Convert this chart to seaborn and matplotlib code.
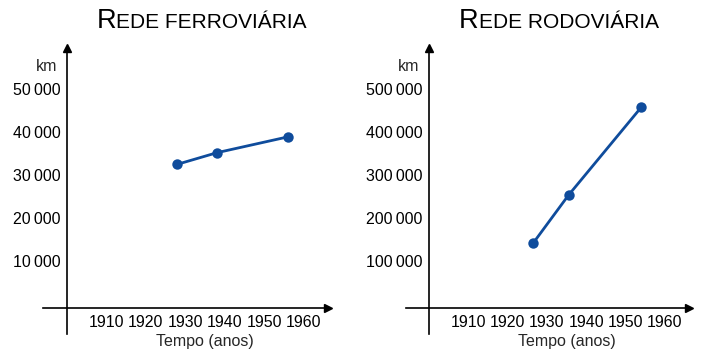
import matplotlib
matplotlib.use("Agg")
import matplotlib.pyplot as plt
from matplotlib.offsetbox import TextArea, HPacker, AnnotationBbox
import pandas as pd
import seaborn as sns

# Data
years_ferro = [1928, 1938, 1956]
km_ferro = [32500, 35200, 38900]

years_rodo = [1926.5, 1935.5, 1954]
km_rodo = [141000, 253000, 458000]

x_ticks = [1910, 1920, 1930, 1940, 1950, 1960]
y_ticks_ferro = [10000, 20000, 30000, 40000, 50000]
y_ticks_rodo = [100000, 200000, 300000, 400000, 500000]

titles = [("R", "EDE FERROVIÁRIA"), ("R", "EDE RODOVIÁRIA")]

sns.set_style("white")
plt.rcParams["font.family"] = ["Liberation Sans", "DejaVu Sans"]

line_color = "#0f4c9c"

fig = plt.figure(figsize=(7.09, 3.59), dpi=100)
ax1 = fig.add_axes([0.061, 0.069, 0.402, 0.798])
ax2 = fig.add_axes([0.572, 0.069, 0.400, 0.798])


def fmt(v):
    return f"{v:,}".replace(",", "\u2009")


def setup_axis(ax, years, km, yticks, scale):
    df = pd.DataFrame({"ano": years, "km": km})
    sns.lineplot(data=df, x="ano", y="km", ax=ax, color=line_color,
                 linewidth=2.0, marker="o", markersize=7.5,
                 markeredgewidth=0, zorder=3)
    ax.set_xlim(1894, 1966.2)
    ax.set_ylim(-7180 * scale, 59700 * scale)
    for side in ["top", "right"]:
        ax.spines[side].set_visible(False)
    ax.spines["left"].set_position(("data", 1900))
    # the original drawing puts its time axis a little below zero
    ax.spines["bottom"].set_position(("data", -1000 * scale))
    for side in ["left", "bottom"]:
        ax.spines[side].set_linewidth(1.2)
        ax.spines[side].set_color("black")
    ax.set_xticks(x_ticks)
    ax.set_yticks(yticks)
    ax.set_yticklabels([fmt(v) for v in yticks])
    ax.tick_params(direction="inout", length=5, width=1.0, labelsize=11.5,
                   colors="black", pad=2)
    ax.tick_params(axis="x", pad=2.5)
    ax.set_xlabel("")
    ax.set_ylabel("")
    # arrow heads
    ax.plot(1, -1000 * scale, ">k", markersize=6,
            transform=ax.get_yaxis_transform(), clip_on=False)
    ax.plot(1900, 1, "^k", markersize=6, transform=ax.get_xaxis_transform(),
            clip_on=False)
    ax.text(0.049, 0.935, "km", transform=ax.transAxes, ha="right",
            va="center", fontsize=11.5)
    ax.text(1935, -0.026, "Tempo (anos)", transform=ax.get_xaxis_transform(),
            ha="center", va="center", fontsize=11.5)


setup_axis(ax1, years_ferro, km_ferro, y_ticks_ferro, 1)
setup_axis(ax2, years_rodo, km_rodo, y_ticks_rodo, 10)


def small_caps_title(x, y, parts):
    big, small = parts
    box = HPacker(children=[
        TextArea(big, textprops=dict(fontsize=19.5, color="black")),
        TextArea(small, textprops=dict(fontsize=15, color="black")),
    ], align="baseline", pad=0, sep=0)
    ab = AnnotationBbox(box, (x, y), xycoords="figure fraction",
                        frameon=False, box_alignment=(0.5, 0.5))
    fig.add_artist(ab)


small_caps_title(201.7 / 709, 1 - 21 / 359, titles[0])
small_caps_title(559 / 709, 1 - 21 / 359, titles[1])

fig.savefig("out.png", dpi=100)
